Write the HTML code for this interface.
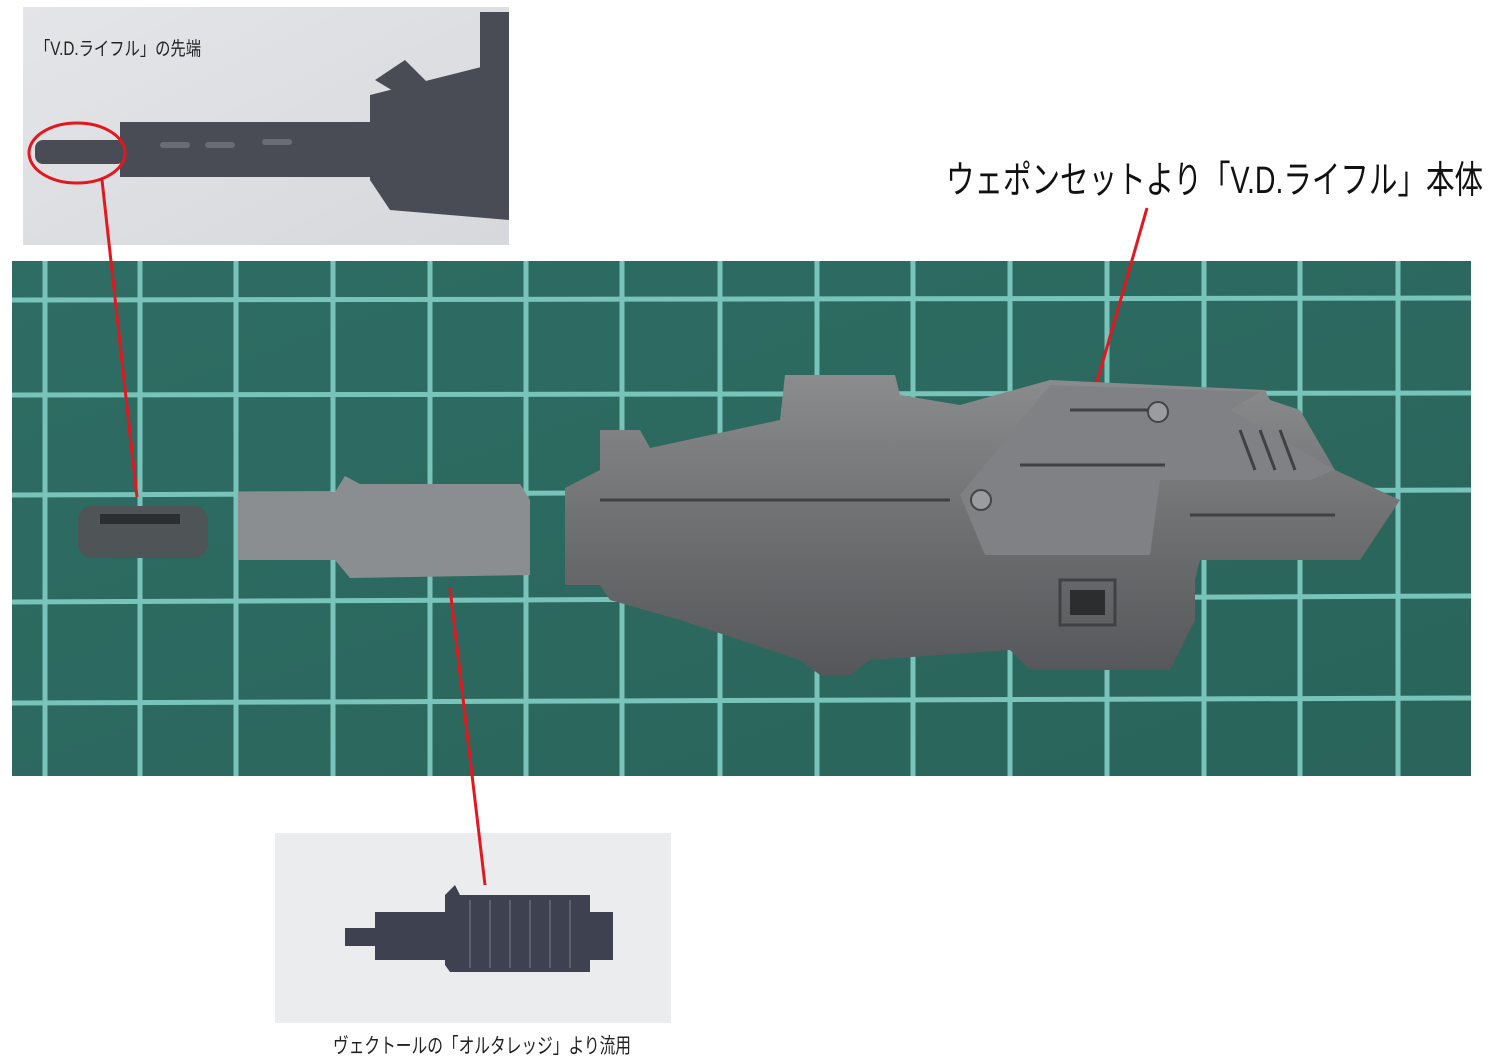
<!DOCTYPE html>
<html><head><meta charset="utf-8"><style>
html,body{margin:0;padding:0;background:#fff;width:1500px;height:1060px;overflow:hidden;font-family:"Liberation Sans","Noto Sans CJK JP",sans-serif;}
svg{position:absolute;left:0;top:0}
</style></head><body>
<svg width="1500" height="1060" viewBox="0 0 1500 1060" xmlns="http://www.w3.org/2000/svg">
<defs>
<linearGradient id="tp" x1="0" y1="0" x2="1" y2="1"><stop offset="0" stop-color="#e4e5e8"/><stop offset="1" stop-color="#d6d8dc"/></linearGradient>
<linearGradient id="mat" x1="0" y1="0" x2="1" y2="1"><stop offset="0" stop-color="#2e6d64"/><stop offset="1" stop-color="#2a645a"/></linearGradient>
<linearGradient id="gun" x1="0" y1="0" x2="0" y2="1"><stop offset="0" stop-color="#8a8c8e"/><stop offset="0.5" stop-color="#6e7072"/><stop offset="1" stop-color="#55575a"/></linearGradient>
</defs>
<rect x="23" y="7" width="486" height="238" fill="url(#tp)"/>
<g fill="#4a4c55">
<rect x="120" y="122" width="250" height="55"/>
<rect x="35" y="140" width="90" height="24" rx="8"/>
<polygon points="370,95 509,60 509,220 390,210 370,180"/>
<polygon points="375,80 405,60 430,85 400,95"/>
<rect x="480" y="12" width="29" height="60"/>
</g>
<g fill="#6a6c74"><rect x="160" y="142" width="30" height="6" rx="3"/><rect x="205" y="142" width="30" height="6" rx="3"/><rect x="262" y="139" width="30" height="6" rx="3"/></g>
<text x="35" y="55" font-size="19" fill="#222" textLength="166" lengthAdjust="spacingAndGlyphs">「V.D.ライフル」の先端</text>
<rect x="12" y="261" width="1459" height="515" fill="url(#mat)"/>
<g stroke="#86d4cb" stroke-width="5" opacity="0.85">
<line x1="45" y1="261" x2="45" y2="776"/><line x1="140" y1="261" x2="140" y2="776"/><line x1="236" y1="261" x2="236" y2="776"/><line x1="333" y1="261" x2="333" y2="776"/><line x1="430" y1="261" x2="430" y2="776"/><line x1="526" y1="261" x2="526" y2="776"/><line x1="622" y1="261" x2="622" y2="776"/><line x1="720" y1="261" x2="720" y2="776"/><line x1="817" y1="261" x2="817" y2="776"/><line x1="913" y1="261" x2="913" y2="776"/><line x1="1010" y1="261" x2="1010" y2="776"/><line x1="1107" y1="261" x2="1107" y2="776"/><line x1="1204" y1="261" x2="1204" y2="776"/><line x1="1300" y1="261" x2="1300" y2="776"/><line x1="1398" y1="261" x2="1398" y2="776"/>
<line x1="12" y1="300" x2="1471" y2="298"/><line x1="12" y1="395" x2="1471" y2="393"/><line x1="12" y1="495" x2="1471" y2="490"/><line x1="12" y1="602" x2="1471" y2="596"/><line x1="12" y1="703" x2="1471" y2="698"/>
</g>
<rect x="78" y="506" width="130" height="52" rx="14" fill="#4f5456"/>
<rect x="100" y="514" width="80" height="10" fill="#2c2f31"/>
<polygon points="238,492 335,492 345,476 360,484 520,484 530,500 530,575 350,578 335,560 238,560" fill="#8a8e90"/>
<polygon points="565,488 600,470 600,430 640,430 650,448 780,420 785,375 895,375 900,395 960,405 1050,380 1265,390 1270,400 1300,410 1335,470 1400,500 1360,560 1200,560 1195,580 1195,620 1170,670 1030,670 1010,650 870,660 850,675 820,675 800,660 680,620 610,600 600,585 565,585" fill="url(#gun)"/>
<polygon points="960,495 1050,385 1260,392 1230,410 1335,470 1310,480 1160,480 1150,555 985,555" fill="#7f8184"/>
<g stroke="#3f4144" stroke-width="3" fill="none">
<line x1="1020" y1="465" x2="1165" y2="465"/><line x1="1070" y1="410" x2="1160" y2="410"/><line x1="1190" y1="515" x2="1335" y2="515"/>
<line x1="1240" y1="430" x2="1255" y2="470"/><line x1="1260" y1="430" x2="1275" y2="470"/><line x1="1280" y1="430" x2="1295" y2="470"/>
<rect x="1060" y="580" width="55" height="45"/><line x1="600" y1="500" x2="950" y2="500"/>
</g>
<circle cx="1158" cy="412" r="10" fill="#9a9c9f" stroke="#444" stroke-width="2"/>
<circle cx="981" cy="500" r="10" fill="#9a9c9f" stroke="#444" stroke-width="2"/>
<rect x="1070" y="590" width="35" height="25" fill="#2b2d2f"/>
<rect x="275" y="833" width="396" height="190" fill="#ebecee"/>
<g fill="#3e4250">
<rect x="345" y="928" width="35" height="18"/>
<rect x="375" y="912" width="75" height="48"/>
<polygon points="445,895 455,885 460,895 590,895 590,972 450,972 445,965"/>
<rect x="588" y="912" width="25" height="48"/>
</g>
<g stroke="#5b6070" stroke-width="2">
<line x1="470" y1="900" x2="470" y2="968"/><line x1="490" y1="900" x2="490" y2="968"/><line x1="510" y1="900" x2="510" y2="968"/><line x1="530" y1="900" x2="530" y2="968"/><line x1="550" y1="900" x2="550" y2="968"/><line x1="570" y1="900" x2="570" y2="968"/>
</g>
<g stroke="#e4161e" stroke-width="3" fill="none">
<ellipse cx="77" cy="153" rx="48" ry="30"/>
<line x1="102" y1="180" x2="137" y2="497"/>
<line x1="1147" y1="208" x2="1097" y2="382"/>
<line x1="450" y1="588" x2="485" y2="885"/>
</g>
<text x="946" y="193" font-size="38" fill="#111" textLength="537" lengthAdjust="spacingAndGlyphs">ウェポンセットより「V.D.ライフル」本体</text>
<text x="333" y="1053" font-size="21" fill="#222" textLength="298" lengthAdjust="spacingAndGlyphs">ヴェクトールの「オルタレッジ」より流用</text>
</svg>
</body></html>
